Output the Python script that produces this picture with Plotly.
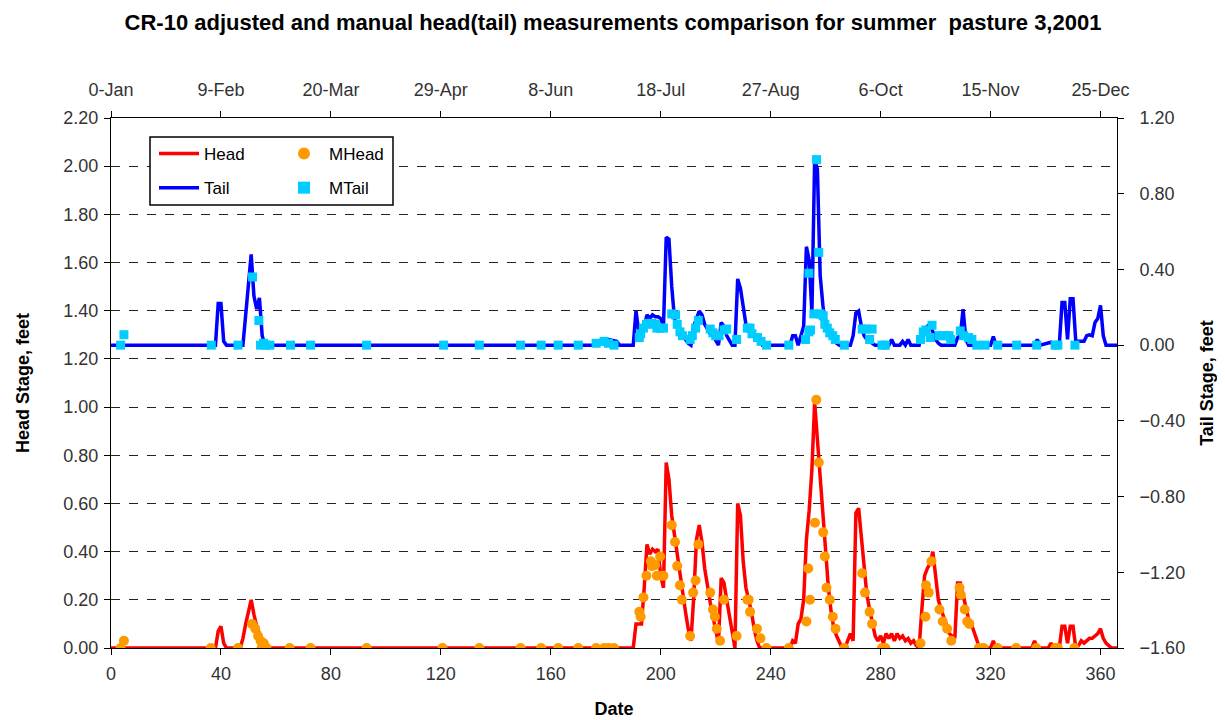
import plotly.graph_objects as go

# ---------------- data ----------------
head_day = [0, 38, 39, 40, 41, 42, 47, 48, 49, 50, 51, 52, 53, 54, 55, 56,
            190, 191, 193, 194, 195, 196, 197, 198, 199, 200, 201, 202, 203, 204, 205, 206, 207, 208, 209, 210,
            211, 212, 213, 214, 215, 216, 217, 218, 219, 220, 221, 222, 223, 224, 225, 226, 227, 228, 229, 230,
            231, 232, 233, 234, 235, 236, 247, 248, 249, 250, 251, 252, 253, 254, 255, 256, 257, 258, 259, 260,
            261, 262, 263, 264, 265, 266, 267, 268, 269, 270, 271, 272, 273, 274, 275, 276, 277, 278, 279, 280,
            281, 282, 283, 284, 285, 286, 287, 288, 289, 290, 291, 292, 293, 294, 295, 296, 297, 298, 299, 300,
            301, 302, 303, 304, 305, 306, 307, 308, 309, 310, 311, 312, 313, 314, 315, 316, 320, 321, 322, 335,
            336, 337, 341, 342, 343, 345, 346, 347, 348, 349, 350, 351, 352, 353, 354, 355, 356, 357, 358, 359,
            360, 361, 362, 363, 364, 366]
head_val = [0, 0, 0.07, 0.09, 0.02, 0, 0, 0.04, 0.10, 0.15, 0.20, 0.14, 0.09, 0.06, 0.02, 0,
            0, 0.10, 0.10, 0.25, 0.43, 0.39, 0.41, 0.40, 0.41, 0.30, 0.25, 0.77, 0.70, 0.55, 0.47, 0.37, 0.30, 0.22, 0.15, 0.08,
            0.03, 0.21, 0.45, 0.51, 0.44, 0.33, 0.25, 0.19, 0.13, 0.07, 0.02, 0.29, 0.27, 0.20, 0.13, 0.06, 0.0, 0.60, 0.55, 0.36,
            0.25, 0.20, 0.15, 0.08, 0.03, 0.0, 0, 0.03, 0.02, 0.10, 0.12, 0.20, 0.45, 0.57, 0.74, 1.02, 0.86, 0.72, 0.53, 0.38,
            0.25, 0.15, 0.08, 0.05, 0.02, 0.0, 0.0, 0.03, 0.06, 0.03, 0.56, 0.58, 0.46, 0.31, 0.22, 0.16, 0.10, 0.05, 0.03, 0.05,
            0.02, 0.06, 0.04, 0.06, 0.03, 0.06, 0.04, 0.05, 0.03, 0.04, 0.02, 0.03, 0.01, 0.0, 0.16, 0.30, 0.33, 0.35, 0.40, 0.31,
            0.20, 0.16, 0.13, 0.09, 0.06, 0.05, 0.04, 0.27, 0.27, 0.22, 0.17, 0.12, 0.10, 0.07, 0.03, 0.0, 0, 0.03, 0, 0,
            0.03, 0, 0, 0.02, 0, 0, 0.09, 0.09, 0.02, 0.09, 0.09, 0.0, 0.01, 0.03, 0.02, 0.03, 0.04, 0.04, 0.05, 0.06,
            0.08, 0.04, 0.02, 0.01, 0.0, 0]

tail_day = [0, 38, 39, 40, 41, 42, 48, 49, 50, 51, 52, 53, 54, 55, 56,
            177, 178, 181, 184, 185, 190, 191, 192, 193, 194, 195, 196, 197, 198, 199, 200, 201, 202, 203, 204,
            205, 206, 207, 208, 209, 210, 211, 212, 213, 214, 215, 216, 217, 218, 219, 220, 221, 222, 223, 224,
            225, 226, 227, 228, 229, 230, 231, 232, 233, 234, 235, 236, 237, 247, 248, 249, 250, 251, 252, 253,
            254, 255, 256, 257, 258, 259, 260, 261, 262, 263, 264, 265, 269, 270, 271, 272, 273, 274, 275, 276,
            277, 278, 283, 284, 285, 287, 288, 289, 290, 291, 294, 295, 296, 297, 298, 299, 300, 301, 302, 307,
            308, 309, 310, 311, 312, 320, 321, 322, 336, 337, 338, 342, 343, 345, 346, 347, 348, 349, 350, 351,
            353, 354, 355, 356, 357, 358, 359, 360, 361, 362, 366]
tail_val = [0, 0, 0.22, 0.22, 0.02, 0, 0, 0.17, 0.31, 0.48, 0.26, 0.19, 0.25, 0.05, 0,
            0, 0.02, 0.03, 0.02, 0, 0, 0.18, 0.07, 0.08, 0.10, 0.16, 0.14, 0.16, 0.15, 0.15, 0.14, 0.10, 0.57, 0.56, 0.31,
            0.14, 0.10, 0.07, 0.05, 0.03, 0.01, 0, 0.10, 0.14, 0.18, 0.16, 0.11, 0.085, 0.06, 0.05, 0.02, 0, 0.12, 0.10, 0.05,
            0.02, 0, 0, 0.35, 0.30, 0.19, 0.11, 0.09, 0.07, 0.05, 0.03, 0.02, 0, 0, 0.05, 0.05, 0, 0.05, 0.10, 0.52,
            0.45, 0.17, 0.98, 0.93, 0.37, 0.21, 0.10, 0.07, 0.05, 0.03, 0.01, 0, 0, 0.05, 0.17, 0.18, 0.10, 0.05, 0.03, 0.02,
            0.01, 0, 0, 0.03, 0, 0, 0.02, 0, 0.03, 0, 0, 0.07, 0.08, 0.10, 0.11, 0.075, 0.03, 0.01, 0, 0,
            0.04, 0.05, 0.19, 0.03, 0, 0, 0.045, 0, 0, 0.03, 0, 0.015, 0, 0, 0.225, 0.225, 0.03, 0.245, 0.245, 0.02,
            0.02, 0.02, 0.05, 0.055, 0.05, 0.12, 0.14, 0.21, 0.05, 0, 0]

mhead_day = [3.5, 4.7, 36.3, 46.2, 51.3, 52.5, 53.5, 54.4, 54.8, 55.6, 56.6, 65, 72.6, 93, 120.6, 134, 149,
             156.5, 162.7, 170, 176.5, 179.4, 181, 183, 192.2, 192.7, 193.7, 194.8, 196.4, 196.8, 198, 198.6,
             199.8, 200.2, 201, 204, 205.2, 206, 207, 207.7, 210.7, 211.8, 212.7, 213.7, 218, 219, 219.7, 220.4,
             221.6, 223, 227.6, 231.5, 232, 232.5, 235, 236.3, 238.5, 246.6, 253, 253.7, 254.3, 256.1, 256.6,
             257.5, 259.1, 259.7, 260.3, 261.5, 262.6, 263.6, 266.8, 273.3, 274.3, 276, 276.9, 280.5, 281.7,
             294.5, 296.3, 296.5, 297.5, 298.5, 301.4, 302.6, 304.2, 305.7, 308.7, 309.2, 310.6, 311.5, 312.3,
             315.7, 317.5, 322.5, 329.3, 336.6, 343.5, 344.5, 350.5]
mhead_val = [0, 0.03, 0, 0, 0.10, 0.08, 0.05, 0.03, 0, 0.02, 0, 0, 0, 0, 0, 0, 0,
             0, 0, 0, 0, 0, 0, 0, 0.15, 0.13, 0.21, 0.30, 0.36, 0.34, 0.345, 0.30,
             0.38, 0.30, 0.30, 0.51, 0.44, 0.34, 0.26, 0.20, 0.05, 0.23, 0.28, 0.43, 0.23, 0.16, 0.13, 0.08,
             0.03, 0.20, 0.05, 0.20, 0.20, 0.15, 0.08, 0.04, 0, 0, 0.11, 0.33, 0.20, 0.52, 1.03,
             0.77, 0.48, 0.38, 0.25, 0.20, 0.13, 0.08, 0, 0.31, 0.23, 0.15, 0.10, 0, 0,
             0.02, 0.13, 0.26, 0.23, 0.36, 0.16, 0.11, 0.08, 0.03, 0.25, 0.22, 0.16, 0.11, 0.10,
             0, 0, 0, 0, 0, 0, 0, 0]

mtail_day = [3.5, 4.7, 36.5, 46.2, 51.5, 53.8, 54.4, 55.5, 56.2, 57.8, 65.3, 72.6, 93, 121, 134, 149, 156.5,
             162.7, 170, 176.5, 179.4, 181, 183, 192.2, 192.7, 193.7, 194.8, 195.6, 196.8, 198, 198.6, 199.8,
             201, 204, 205.4, 206, 207, 207.9, 210.7, 211.5, 212.7, 213.7, 218, 219, 220, 221.2, 223, 224,
             227.6, 231.5, 232.5, 233.2, 235.2, 236.5, 238.5, 246.6, 252.7, 253.9, 253.9, 254.5, 255.7, 256.7,
             257.5, 258, 259.1, 259.7, 260.6, 261.5, 262.6, 263.5, 266.8, 273.3, 274.5, 276, 276.9, 280.5,
             281.7, 294.5, 295.5, 296.5, 298, 298.7, 301.3, 302.5, 303.7, 304.9, 305.5, 309, 310.2, 312, 313.2,
             315, 318, 322.6, 329.5, 336.8, 343.5, 344.5, 350.7]
mtail_val = [0, 0.055, 0, 0, 0.36, 0.13, 0, 0.01, 0, 0, 0, 0, 0, 0, 0, 0, 0,
             0, 0, 0.01, 0.02, 0.01, 0, 0.04, 0.06, 0.09, 0.11, 0.115, 0.115, 0.11, 0.09, 0.09,
             0.09, 0.165, 0.16, 0.11, 0.07, 0.05, 0.03, 0.05, 0.09, 0.13, 0.085, 0.065, 0.05, 0.05, 0.08, 0.085,
             0.03, 0.09, 0.09, 0.06, 0.04, 0.02, 0, 0, 0.03, 0.07, 0.38, 0.08, 0.165, 0.98,
             0.49, 0.165, 0.155, 0.11, 0.09, 0.065, 0.05, 0.03, 0, 0.085, 0.085, 0.03, 0.085, 0,
             0, 0.03, 0.07, 0.08, 0.04, 0.105, 0.05, 0.05, 0.05, 0.05, 0.03, 0.075, 0.05, 0.04, 0.03,
             0, 0, 0, 0, 0, 0, 0, 0]

bottom_ticks = [0, 40, 80, 120, 160, 200, 240, 280, 320, 360]
top_labels = ["0-Jan", "9-Feb", "20-Mar", "29-Apr", "8-Jun", "18-Jul", "27-Aug", "6-Oct", "15-Nov", "25-Dec"]

TITLE = "CR-10 adjusted and manual head(tail) measurements comparison for summer  pasture 3,2001"

# ---------------- figure ----------------
FONT = "Arial, Liberation Sans, sans-serif"
TICKC = "#333333"

fig = go.Figure()
fig.add_trace(go.Scatter(x=head_day, y=head_val, mode="lines", name="Head",
                         line=dict(color="#FF0000", width=3.5), xaxis="x", yaxis="y",
                         legend="legend", legendgroup="a"))
fig.add_trace(go.Scatter(x=tail_day, y=tail_val, mode="lines", name="Tail",
                         line=dict(color="#0000FF", width=3.5), xaxis="x2", yaxis="y2",
                         legend="legend", legendgroup="b"))
fig.add_trace(go.Scatter(x=mhead_day, y=mhead_val, mode="markers", name="MHead",
                         marker=dict(color="#FF9900", size=10, symbol="circle"), xaxis="x", yaxis="y",
                         legend="legend2", legendgroup="c"))
fig.add_trace(go.Scatter(x=mtail_day, y=mtail_val, mode="markers", name="MTail",
                         marker=dict(color="#00CCFF", size=9, symbol="square"), xaxis="x2", yaxis="y2",
                         legend="legend2", legendgroup="d"))

# page has an 8px body margin: figure starts at screen (8, 8)
OFF = 8
SCR_W, SCR_H = 1225, 720
PL, PR, PT, PB = 111, 1117, 118, 648          # plot area in screen pixels
W, H = SCR_W - OFF, SCR_H - OFF
L, R, T, B = PL - OFF, SCR_W - PR, PT - OFF, SCR_H - PB
pw, ph = PR - PL, PB - PT


def px(xp):
    return (xp - PL) / pw


def py(yp):
    return (PB - yp) / ph


axis_common = dict(showline=True, linecolor="black", linewidth=1, ticks="outside", ticklen=6,
                   tickcolor="black", tickfont=dict(family=FONT, size=18, color=TICKC), zeroline=False,
                   automargin=False)

fig.update_layout(
    width=W, height=H,
    margin=dict(l=L, r=R, t=T, b=B, autoexpand=False),
    paper_bgcolor="white", plot_bgcolor="white",
    showlegend=True,
    title=dict(text="<b>" + TITLE + "</b>", x=(613 - OFF) / W, xanchor="center",
               y=1 - (22 - OFF) / H, yanchor="middle",
               font=dict(family=FONT, size=22, color="black"), automargin=False),
    xaxis=dict(range=[0, 366], tickmode="array", tickvals=bottom_ticks, showgrid=False,
               title=dict(text="<b>Date</b>", font=dict(family=FONT, size=18, color="black"), standoff=19),
               ticklabelstandoff=3, **axis_common),
    xaxis2=dict(range=[0, 366], tickmode="array", tickvals=bottom_ticks, ticktext=top_labels,
                overlaying="x", side="top", anchor="y2", showgrid=False, ticklabelstandoff=8, **axis_common),
    yaxis=dict(range=[0, 2.2], tickmode="array", tickvals=[i * 0.2 for i in range(12)], tickformat=".2f",
               showgrid=True, gridcolor="#222222", gridwidth=1, griddash="dash",
               title=dict(text="<b>Head Stage, feet</b>", font=dict(family=FONT, size=18, color="black"), standoff=29),
               ticklabelstandoff=2, **axis_common),
    yaxis2=dict(range=[-1.6, 1.2], tickmode="array", tickvals=[-1.6 + i * 0.4 for i in range(8)], tickformat=".2f",
                overlaying="y", side="right", anchor="x", showgrid=False,
                title=dict(text="<b>Tail Stage, feet</b>", font=dict(family=FONT, size=18, color="black"), standoff=16),
                ticklabelstandoff=12, **axis_common),
    legend=dict(x=px(154), y=py(136), xanchor="left", yanchor="top", bgcolor="rgba(0,0,0,0)",
                font=dict(family=FONT, size=17, color="black"), tracegroupgap=9, itemwidth=40),
    legend2=dict(x=px(279), y=py(136), xanchor="left", yanchor="top", bgcolor="rgba(0,0,0,0)",
                 font=dict(family=FONT, size=17, color="black"), tracegroupgap=9, itemwidth=40,
                 itemsizing="constant"),
    shapes=[dict(type="rect", xref="paper", yref="paper", x0=px(150), x1=px(393), y0=py(205), y1=py(137),
                 line=dict(color="black", width=1.5), fillcolor="white", layer="above")],
)

fig.write_html("out.html")
